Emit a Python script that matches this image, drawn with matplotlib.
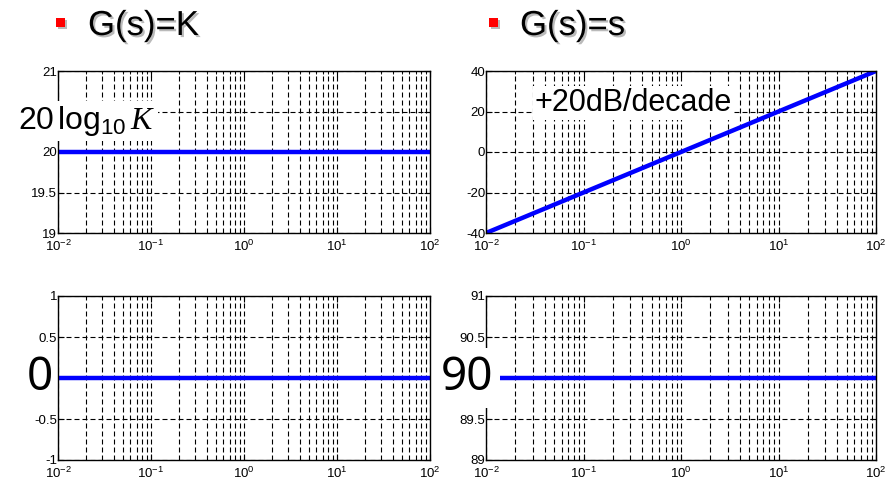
import matplotlib
matplotlib.use('Agg')
import matplotlib.pyplot as plt
import matplotlib.patheffects as pe
from matplotlib.patches import Rectangle
from matplotlib.ticker import LogLocator, NullFormatter

# ---------------- data ----------------
freq = [0.01, 100]            # rad/s, endpoints of the plotted range
mag_K = [20, 20]              # dB, G(s)=K (K=10)
phase_K = [0, 0]              # deg
mag_s = [-40, 40]             # dB, G(s)=s
phase_s = [90, 90]            # deg

titles = ['G(s)=K', 'G(s)=s']
yticks_magK = [19, 19.5, 20, 20.5, 21]
ylabels_magK = ['19', '19.5', '20', '', '21']       # 20.5 hidden behind annotation
yticks_phK = [-1, -0.5, 0, 0.5, 1]
ylabels_phK = ['-1', '-0.5', '', '0.5', '1']        # 0 hidden behind annotation
yticks_magS = [-40, -20, 0, 20, 40]
ylabels_magS = ['-40', '-20', '0', '20', '40']
yticks_phS = [89, 89.5, 90, 90.5, 91]
ylabels_phS = ['89', '89.5', '', '90.5', '91']      # 90 hidden behind annotation
annotations = [r'$\mathrm{20\,log_{10}}\,K$', '+20dB/decade', '0', '90']

# ---------------- style ----------------
plt.rcParams['axes.unicode_minus'] = False
plt.rcParams['mathtext.fontset'] = 'custom'
plt.rcParams['mathtext.rm'] = 'Liberation Sans'
plt.rcParams['mathtext.it'] = 'Liberation Serif:italic'
plt.rcParams['font.family'] = ['Liberation Sans', 'DejaVu Sans']

W, H = 894, 483
fig = plt.figure(figsize=(W / 100, H / 100), dpi=100)


def px_axes(x0, y0, x1, y1):
    return fig.add_axes([x0 / W, 1 - y1 / H, (x1 - x0) / W, (y1 - y0) / H])


ax_tl = px_axes(58, 71, 430, 233)
ax_bl = px_axes(58, 296, 430, 460)
ax_tr = px_axes(486, 71, 876, 233)
ax_br = px_axes(486, 296, 876, 460)

dash = (0, (4.5, 2.7))


def style(ax, yt, yl):
    ax.set_xscale('log')
    ax.set_xlim(freq[0], freq[1])
    ax.set_ylim(yt[0], yt[-1])
    ax.set_yticks(yt)
    ax.set_yticklabels(yl)
    ax.xaxis.set_major_locator(LogLocator(base=10, numticks=10))
    ax.xaxis.set_minor_locator(LogLocator(base=10, subs=range(2, 10), numticks=50))
    ax.xaxis.set_minor_formatter(NullFormatter())
    ax.grid(True, which='major', axis='both', color='black', linestyle=dash, linewidth=0.8)
    ax.grid(True, which='minor', axis='x', color='black', linestyle=dash, linewidth=0.8)
    ax.tick_params(which='both', direction='in', top=True, right=True,
                   labelsize=9.5, colors='black')
    ax.tick_params(which='major', length=4, width=0.8)
    ax.tick_params(which='minor', length=2, width=0.6)
    ax.tick_params(axis='x', pad=4.5)
    ax.tick_params(axis='y', pad=0.5)
    for s in ax.spines.values():
        s.set_color('black')
        s.set_linewidth(1.0)


style(ax_tl, yticks_magK, ylabels_magK)
style(ax_bl, yticks_phK, ylabels_phK)
style(ax_tr, yticks_magS, ylabels_magS)
style(ax_br, yticks_phS, ylabels_phS)

blue = '#0000ff'
ax_tl.plot(freq, mag_K, color=blue, linewidth=3.2)
ax_bl.plot(freq, phase_K, color=blue, linewidth=3.2)
ax_tr.plot(freq, mag_s, color=blue, linewidth=3.2)
ax_br.plot(freq, phase_s, color=blue, linewidth=3.2)

ax_tl.text((18 - 58) / 372, (233 - 121) / 162, annotations[0], transform=ax_tl.transAxes,
           ha='left', va='center', fontsize=23,
           bbox=dict(facecolor='white', edgecolor='none', pad=2), zorder=5)
ax_tr.text((633 - 486) / 390, (233 - 103) / 162, annotations[1], transform=ax_tr.transAxes,
           ha='center', va='center', fontsize=22,
           family=['Liberation Sans', 'DejaVu Sans'],
           bbox=dict(facecolor='white', edgecolor='none', pad=1), zorder=5)
ax_bl.text((53 - 58) / 372, (460 - 378) / 164, annotations[2], transform=ax_bl.transAxes,
           ha='right', va='center', fontsize=33, family=['Noto Sans', 'DejaVu Sans'],
           bbox=dict(facecolor='white', edgecolor='none', pad=1), zorder=5)
ax_br.text((493 - 486) / 390, (460 - 378) / 164, annotations[3], transform=ax_br.transAxes,
           ha='right', va='center', fontsize=33, family=['Noto Sans', 'DejaVu Sans'],
           bbox=dict(facecolor='white', edgecolor='none', pad=5), zorder=5)

# ---------------- titles with bullets ----------------
shadow = [pe.withSimplePatchShadow(offset=(1.5, -1.5), shadow_rgbFace=(0.55, 0.55, 0.55), alpha=0.6)]
for bx, tx, t in [(56, 88, titles[0]), (489, 520, titles[1])]:
    r = Rectangle((bx / W, 1 - 27 / H), 9 / W, 9 / H, transform=fig.transFigure,
                  facecolor='#ff0000', edgecolor='none', path_effects=shadow)
    fig.patches.append(r)
    fig.text(tx / W, 1 - 35 / H, t, ha='left', va='baseline', fontsize=25,
             family=['Liberation Sans', 'DejaVu Sans'], path_effects=shadow)

fig.savefig('out.png', dpi=100)
